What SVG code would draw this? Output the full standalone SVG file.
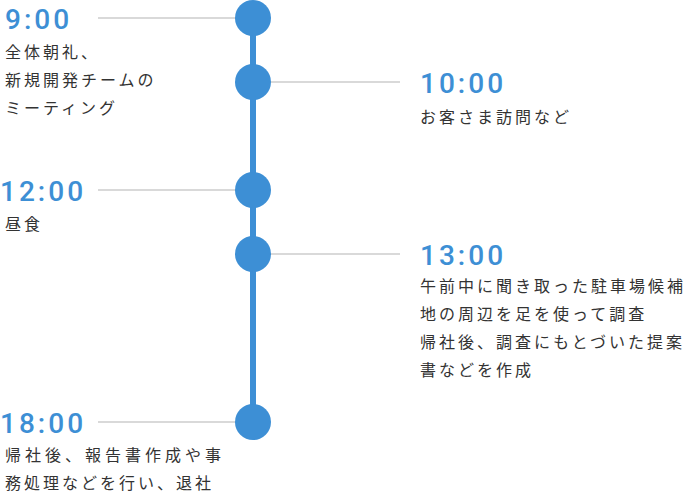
<svg xmlns="http://www.w3.org/2000/svg" width="688" height="493" viewBox="0 0 688 493">
<style>
.t{font-family:"Roboto","Liberation Sans",Arial,sans-serif;font-size:28px;font-weight:500;fill:#3d8fd5;letter-spacing:3px}
.b{font-family:"Noto Sans CJK JP",sans-serif;font-size:16px;fill:#333;letter-spacing:3px}
.w{letter-spacing:4px}
.g{stroke:#cccccc;stroke-width:1.5}
.c{fill:#3d8fd5}
</style>
<rect width="688" height="493" fill="#fff"/>
<g id="connectors">
<line x1="253" y1="18" x2="253" y2="422" stroke="#3d8fd5" stroke-width="6"/>
<line class="g" x1="98" y1="18" x2="240" y2="18"/>
<line class="g" x1="266" y1="82" x2="400" y2="82"/>
<line class="g" x1="98" y1="190" x2="240" y2="190"/>
<line class="g" x1="266" y1="254" x2="400" y2="254"/>
<line class="g" x1="98" y1="422" x2="240" y2="422"/>
</g>
<g id="n900"><circle class="c" cx="253" cy="18" r="18"/><text class="t" x="5" y="29">9:00</text>
<text class="b" x="5" y="58">全体朝礼、</text><text class="b" x="5" y="86">新規開発チームの</text><text class="b" x="5" y="114">ミーティング</text></g>
<g id="n1000"><circle class="c" cx="253" cy="82" r="18"/><text class="t" x="420" y="93">10:00</text>
<text class="b" x="420" y="123">お客さま訪問など</text></g>
<g id="n1200"><circle class="c" cx="253" cy="190" r="18"/><text class="t" x="0" y="201">12:00</text>
<text class="b" x="5" y="230">昼食</text></g>
<g id="n1300"><circle class="c" cx="253" cy="254" r="18"/><text class="t" x="420" y="265">13:00</text>
<text class="b" x="420" y="292">午前中に聞き取った駐車場候補</text><text class="b" x="420" y="320">地の周辺を足を使って調査</text><text class="b" x="420" y="348">帰社後、調査にもとづいた提案</text><text class="b" x="420" y="376">書などを作成</text></g>
<g id="n1800"><circle class="c" cx="253" cy="422" r="18"/><text class="t" x="0" y="433">18:00</text>
<text class="b w" x="5" y="461">帰社後、報告書作成や事</text><text class="b" x="5" y="489">務処理などを行い、退社</text></g>
</svg>
